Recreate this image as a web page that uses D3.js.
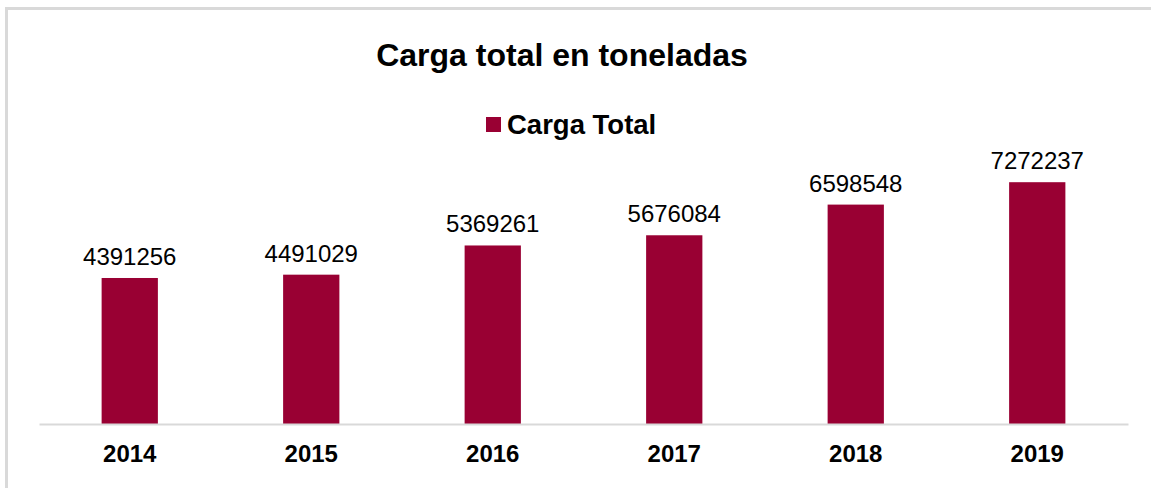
<!DOCTYPE html>
<html>
<head>
<meta charset="utf-8">
<script src="https://cdn.jsdelivr.net/npm/d3@7"></script>
<style>
  html, body { margin: 0; padding: 0; background: #fff; }
  svg { display: block; font-family: "Liberation Sans", Arial, sans-serif; }
</style>
</head>
<body>
<svg id="chart" width="1151" height="488"></svg>
<script>
const categories = ["2014", "2015", "2016", "2017", "2018", "2019"];
const values = [4391256, 4491029, 5369261, 5676084, 6598548, 7272237];
const seriesName = "Carga Total";
const titleText = "Carga total en toneladas";

const svg = d3.select("#chart");
const W = 1151, H = 488;
const color = "#990033";

// frame (top and left border)
svg.append("rect").attr("x", 5).attr("y", 7).attr("width", W).attr("height", 3).attr("fill", "#d9d9d9");
svg.append("rect").attr("x", 5).attr("y", 7).attr("width", 3).attr("height", H).attr("fill", "#d9d9d9");

const x = d3.scaleBand().domain(categories).range([39, 1128]).paddingInner(0.69).paddingOuter(0.345);
const y = d3.scaleLinear().domain([0, 8000000]).range([424, 158]);

// bars
svg.append("g").selectAll("rect").data(values).join("rect")
  .attr("x", (d, i) => x(categories[i]))
  .attr("y", d => y(d))
  .attr("width", x.bandwidth())
  .attr("height", d => y(0) - y(d))
  .attr("fill", color);

// baseline axis
const xAxis = svg.append("g").attr("transform", `translate(0,${y(0)})`)
  .call(d3.axisBottom(x).tickSize(0).tickPadding(0));
xAxis.select(".domain").attr("stroke", "#d9d9d9").attr("stroke-width", 2);
xAxis.selectAll("text")
  .attr("y", 38)
  .attr("dy", null)
  .attr("font-size", 24)
  .attr("font-weight", "bold")
  .attr("fill", "#000")
  .attr("font-family", "Liberation Sans, Arial, sans-serif");

// value labels
svg.append("g").selectAll("text").data(values).join("text")
  .attr("x", (d, i) => x(categories[i]) + x.bandwidth() / 2)
  .attr("y", d => y(d) - 13)
  .attr("text-anchor", "middle")
  .attr("font-size", 24)
  .attr("fill", "#000")
  .text(d => d);

// title
svg.append("text").attr("x", 562).attr("y", 66).attr("text-anchor", "middle")
  .attr("font-size", 32).attr("font-weight", "bold").attr("fill", "#000").text(titleText);

// legend
svg.append("rect").attr("x", 486).attr("y", 117).attr("width", 15).attr("height", 15).attr("fill", color);
svg.append("text").attr("x", 507).attr("y", 134)
  .attr("font-size", 27.5).attr("font-weight", "bold").attr("fill", "#000").text(seriesName);
</script>
</body>
</html>
